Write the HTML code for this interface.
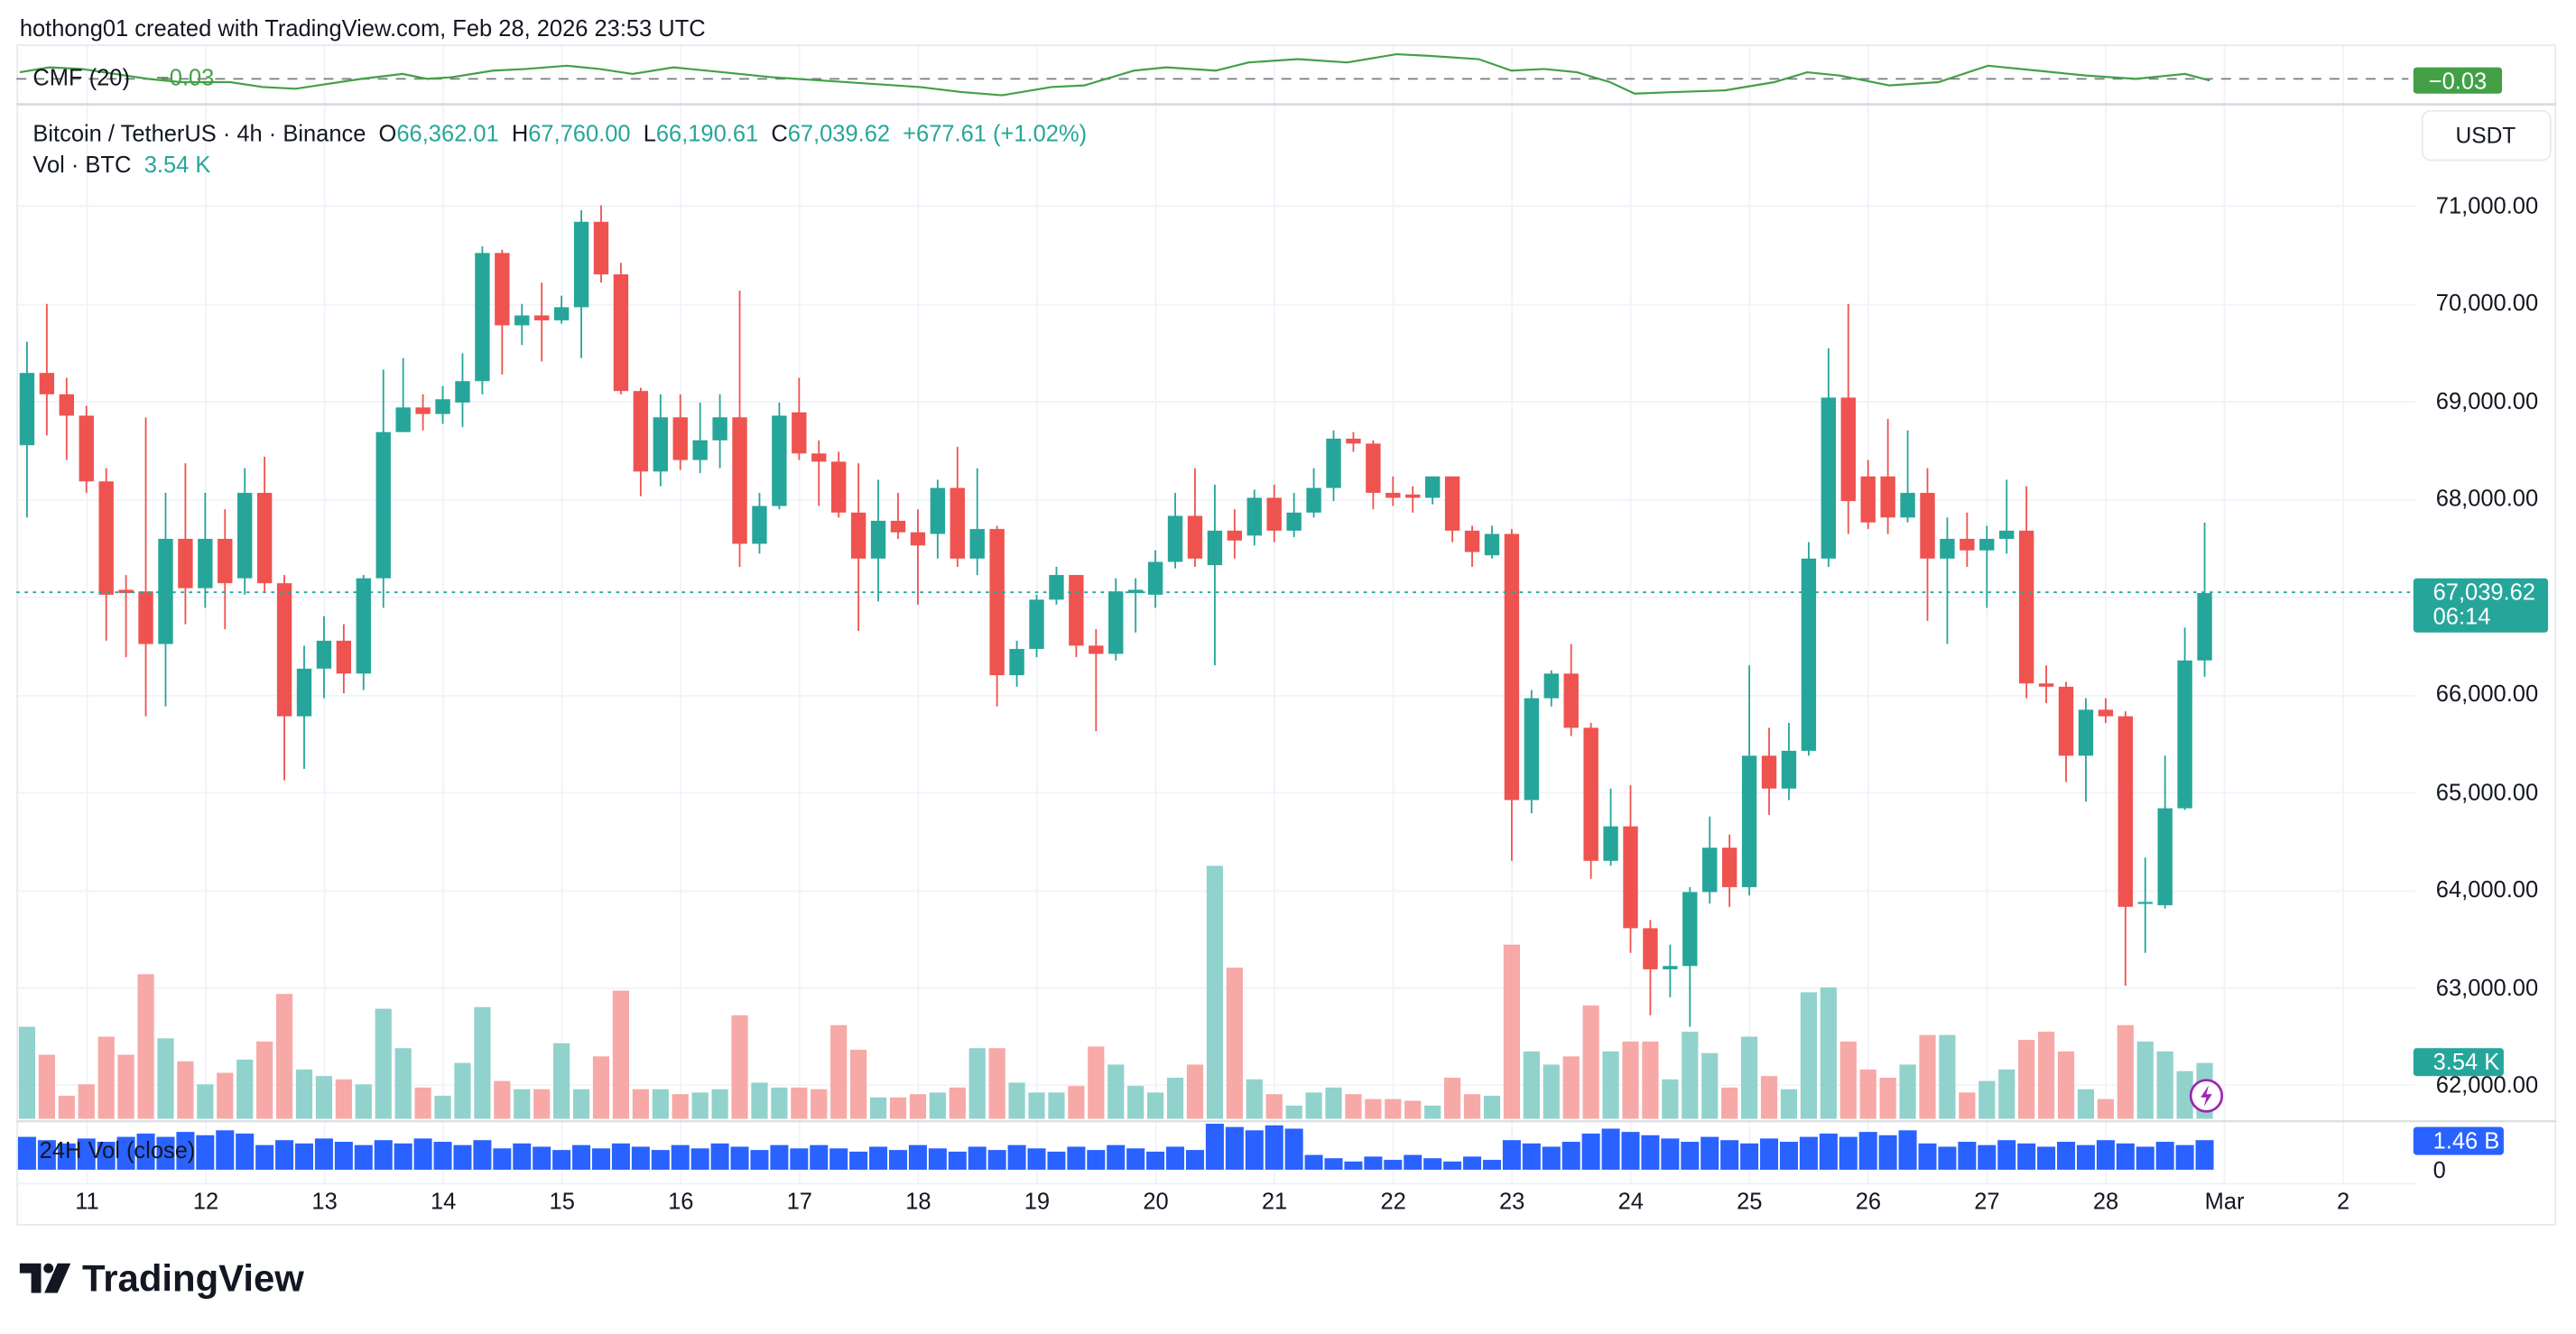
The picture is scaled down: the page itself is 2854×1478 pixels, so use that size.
<!DOCTYPE html>
<html><head><meta charset="utf-8">
<style>
html,body{margin:0;padding:0;background:#fff;}
svg{display:block;}
text{font-family:"Liberation Sans",sans-serif;}
</style></head>
<body>
<svg id="s" width="2854" height="1478" viewBox="0 0 1568 812" preserveAspectRatio="none" xmlns="http://www.w3.org/2000/svg">
<rect width="1568" height="812" fill="#fff"/>
<g id="grid"></g>
<rect x="10.5" y="27.5" width="1545" height="718" fill="none" stroke="#e8eaef" stroke-width="1"/>
<line x1="10" y1="63.5" x2="1556" y2="63.5" stroke="#d8dbe2" stroke-width="1.5"/>
<line x1="10" y1="682.5" x2="1556" y2="682.5" stroke="#d8dbe2" stroke-width="1.2"/>
<line x1="10" y1="720.5" x2="1470" y2="720.5" stroke="#eef0f4" stroke-width="1"/>
<line x1="10" y1="48" x2="1466" y2="48" stroke="#787b86" stroke-width="1" stroke-dasharray="6,5"/>
<polyline id="cmf" fill="none" stroke="#43a047" stroke-width="1.2"/>
<g id="vol"></g>
<g id="v24"></g>
<g id="candles"></g>
<line x1="10" y1="360.5" x2="1469" y2="360.5" stroke="#26a69a" stroke-width="1" stroke-dasharray="2,3"/>

<text x="12" y="22" font-size="14" fill="#131722">hothong01 created with TradingView.com, Feb 28, 2026 23:53 UTC</text>
<text x="20" y="52" font-size="14" fill="#131722">CMF (20)</text>
<text x="95" y="52" font-size="14" fill="#43a047">−0.03</text>
<text x="20" y="86" font-size="14" fill="#131722" xml:space="preserve">Bitcoin / TetherUS · 4h · Binance  O<tspan fill="#26a69a">66,362.01</tspan>  H<tspan fill="#26a69a">67,760.00</tspan>  L<tspan fill="#26a69a">66,190.61</tspan>  C<tspan fill="#26a69a">67,039.62  +677.61 (+1.02%)</tspan></text>
<text x="20" y="105" font-size="14" fill="#131722">Vol · BTC <tspan fill="#26a69a" dx="4">3.54 K</tspan></text>
<text x="24" y="705" font-size="14" fill="#131722">24H Vol (close)</text>

<rect x="1474.5" y="67.5" width="78" height="30" rx="5" fill="#fff" stroke="#e8eaef"/>
<text x="1513" y="87" font-size="13.5" fill="#131722" text-anchor="middle">USDT</text>
<g font-size="14" fill="#131722" text-anchor="end">
<text x="1545" y="130">71,000.00</text>
<text x="1545" y="189">70,000.00</text>
<text x="1545" y="249">69,000.00</text>
<text x="1545" y="308">68,000.00</text>
<text x="1545" y="427">66,000.00</text>
<text x="1545" y="487">65,000.00</text>
<text x="1545" y="546">64,000.00</text>
<text x="1545" y="606">63,000.00</text>
<text x="1545" y="665">62,000.00</text>
</g>
<text x="1481" y="717" font-size="14" fill="#131722">0</text>
<rect x="1469" y="41" width="54" height="16" rx="2" fill="#43a047"/>
<text x="1496" y="54" font-size="14" fill="#fff" text-anchor="middle">−0.03</text>
<rect x="1469" y="352" width="82" height="33" rx="2" fill="#26a69a"/>
<text x="1481" y="365" font-size="14" fill="#fff">67,039.62</text>
<text x="1481" y="380" font-size="14" fill="#fff">06:14</text>
<rect x="1469" y="638" width="55" height="17" rx="2" fill="#26a69a"/>
<text x="1481" y="651" font-size="14" fill="#fff">3.54 K</text>
<rect x="1469" y="686" width="55" height="17" rx="2" fill="#2962ff"/>
<text x="1481" y="699" font-size="14" fill="#fff">1.46 B</text>

<g id="dates" font-size="14" fill="#131722" text-anchor="middle"></g>

<circle cx="1343" cy="667" r="9.5" fill="#fff" stroke="#9c27b0" stroke-width="1.5"/>
<path d="M1344.5 660.5 L1339.5 668 L1343 668 L1341.5 673.5 L1346.5 666 L1343 666 Z" fill="#9c27b0"/>

<g fill="#131722">
<path d="M12 769 H25 V787 H19 V775 H12 Z"/>
<circle cx="29.5" cy="772" r="3"/>
<path d="M35 769 H43 L35 787 H27 Z"/>
</g>
<text x="50" y="786" font-size="23" font-weight="bold" fill="#131722">TradingView</text>
</svg>
<script>
var NS="http://www.w3.org/2000/svg";
function el(p,t,a){var e=document.createElementNS(NS,t);for(var k in a)e.setAttribute(k,a[k]);document.getElementById(p).appendChild(e);return e;}
var hy=[125,185,244,304,363,423,482,542,601,660];
hy.forEach(function(y){el('grid','line',{x1:10,x2:1470,y1:y+.5,y2:y+.5,stroke:'#f0f3fa','stroke-width':1});});
var days=['11','12','13','14','15','16','17','18','19','20','21','22','23','24','25','26','27','28','Mar','2'];
for(var k=0;k<days.length;k++){var x=53+72.28*k;
el('grid','line',{x1:x,x2:x,y1:28,y2:720,stroke:'#f0f3fa','stroke-width':1});
var t=el('dates','text',{x:x,y:736});t.textContent=days[k];}
var C=[[271,227,208,315],[227,240,185,265],[240,253,230,280],[253,293,247,300],[293,362,285,390],[359,361,350,400],[360,392,254,436],[392,328,300,430],[328,358,282,380],[358,328,300,370],[328,355,310,383],[352,300,285,362],[300,355,278,360],[355,436,350,475],[436,407,393,468],[407,390,375,425],[390,410,380,422],[410,352,350,420],[352,263,225,370],[263,248,218,263],[248,252,240,262],[252,243,235,258],[245,232,215,260],[232,154,150,240],[154,198,152,228],[198,192,185,210],[192,195,172,220],[195,187,180,197],[187,135,128,218],[135,167,125,172],[167,238,160,240],[238,287,236,302],[287,254,240,296],[254,280,240,286],[280,268,245,288],[268,254,240,285],[254,331,177,345],[331,308,300,337],[308,253,245,310],[251,276,230,280],[276,281,268,308],[281,312,275,315],[312,340,282,384],[340,317,292,366],[317,324,300,328],[324,332,310,368],[325,297,292,340],[297,340,272,345],[340,322,285,350],[322,411,320,430],[411,395,390,418],[395,365,362,400],[365,350,345,368],[350,393,350,400],[393,398,383,445],[398,360,352,402],[361,359,352,385],[362,342,335,370],[342,314,300,346],[314,340,285,345],[344,323,295,405],[323,329,310,340],[326,303,298,332],[303,323,295,330],[323,312,300,327],[312,297,285,315],[297,267,262,305],[267,270,263,275],[270,300,268,310],[300,303,290,308],[301,303,296,312],[303,290,290,307],[290,323,290,330],[323,336,320,345],[338,325,320,340],[325,487,322,524],[487,425,420,495],[425,410,408,430],[410,443,392,448],[443,524,440,535],[524,503,480,527],[503,565,478,580],[565,590,560,618],[590,588,575,607],[588,543,540,625],[543,516,497,550],[516,540,508,552],[540,460,405,545],[460,480,443,496],[480,457,440,487],[457,340,330,460],[340,242,212,345],[242,305,185,325],[290,318,280,322],[290,315,255,325],[315,300,262,318],[300,340,285,378],[340,328,315,392],[328,335,312,345],[335,328,320,370],[328,323,292,337],[323,416,296,425],[416,418,405,428],[418,460,415,476],[460,432,425,488],[432,436,425,440],[436,552,433,600],[550,549,522,580],[551,492,460,553],[492,402,382,493],[402,361,318,412]];
var V=[625,642,667,660,631,642,593,632,646,660,653,645,634,605,651,655,657,660,614,638,662,667,647,613,658,663,663,635,663,643,603,663,663,666,665,663,618,659,662,662,663,624,639,668,668,666,665,662,638,638,659,665,665,661,637,648,661,665,656,648,527,589,657,666,673,665,662,666,669,669,670,673,656,666,667,575,640,648,643,612,640,634,634,657,628,641,662,631,655,663,604,601,634,651,656,648,630,630,665,658,651,633,628,640,663,669,624,634,640,652,647];
function X(i){return 1354-12.05*(111-i);}
for(var i=0;i<C.length;i++){var c=C[i],x=X(i),up=c[1]<=c[0];
var col=up?'#26a69a':'#ef5350';
el('vol','rect',{x:x-5,y:V[i],width:10,height:681-V[i],fill:up?'#92d2cc':'#f7a9a7'});
el('candles','line',{x1:x,x2:x,y1:c[2],y2:c[3],stroke:col,'stroke-width':1});
var t=Math.min(c[0],c[1]),h=Math.max(1.2,Math.abs(c[1]-c[0]));
el('candles','rect',{x:x-4.5,y:t,width:9,height:h,fill:col});
var tv;
if(i<6)tv=694;else if(i<12)tv=690;else if(i<24)tv=695;else if(i<40)tv=698;else if(i<60)tv=699;else if(i<65)tv=686;else if(i<75)tv=705;else if(i<79)tv=696;else if(i<83)tv=689;else if(i<91)tv=694;else if(i<96)tv=690;else tv=696;
tv+= (i*7%5)-2;
el('v24','rect',{x:x-5.5,y:tv,width:11,height:712-tv,fill:'#2962ff'});
}
var P=[[12,44],[30,41],[50,42],[70,45],[90,48],[110,50],[140,50],[160,53],[180,54],[200,51],[220,48],[245,45],[260,48],[275,47],[300,43],[320,42],[345,40],[365,42],[385,45],[410,41],[440,44],[470,47],[500,49],[530,51],[560,53],[585,56],[610,58],[640,53],[660,52],[690,43],[710,41],[740,43],[760,38],[790,36],[820,38],[850,33],[870,34],[900,36],[920,43],[940,42],[960,44],[980,50],[995,57],[1020,56],[1050,55],[1080,50],[1100,44],[1120,46],[1150,52],[1180,50],[1210,40],[1240,43],[1270,46],[1300,48],[1330,45],[1345,49]];
document.getElementById('cmf').setAttribute('points',P.map(function(p){return p.join(',');}).join(' '));
</script>
</body></html>
